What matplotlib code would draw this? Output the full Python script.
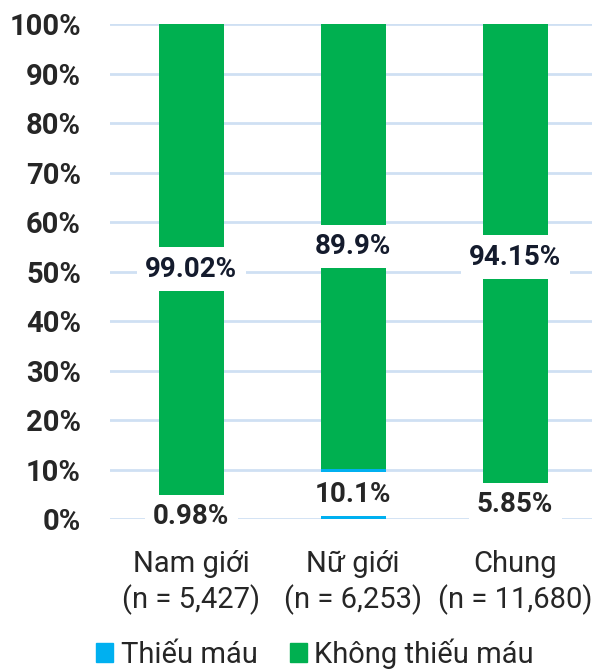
import matplotlib.pyplot as plt
from matplotlib.patches import Patch
import numpy as np

plt.rcParams['font.family'] = ['Roboto', 'DejaVu Sans']

groups = ["Nam giới\n(n = 5,427)", "Nữ giới\n(n = 6,253)", "Chung\n(n = 11,680)"]
thieu_mau = [0.98, 10.1, 5.85]
khong_thieu_mau = [99.02, 89.9, 94.15]
series_names = ["Thiếu máu", "Không thiếu máu"]

blue = "#00B0F0"
green = "#00B050"
grid_c = "#CFE0F3"

fig = plt.figure(figsize=(5.92, 6.71), dpi=100)
ax = fig.add_axes([0.186, 0.2265, 0.821, 0.7377])

x = np.arange(len(groups))
bottom = np.zeros(len(groups))
for vals, col, tcol in [(thieu_mau, blue, "#262626"), (khong_thieu_mau, green, "#141B2D")]:
    vals = np.array(vals)
    ax.bar(x, vals, 0.4, bottom=bottom, color=col, zorder=2)
    for xi, b, v in zip(x, bottom, vals):
        ax.text(xi, b + v / 2, f"{v:g}%", ha="center", va="center",
                fontsize=20, fontweight="bold", color=tcol, zorder=4,
                bbox=dict(boxstyle="square,pad=0.3", fc="white", ec="none"))
    bottom = bottom + vals

ax.set_xlim(-0.5, 2.5)
ax.set_ylim(0, 100)
ax.set_yticks(np.arange(0, 101, 10))
ax.set_yticklabels([f"{t}%" for t in range(0, 101, 10)])
ax.set_xticks(x)
ax.set_xticklabels(groups, fontsize=21, color="#262626", linespacing=1.3)
ax.tick_params(axis="y", length=0, pad=21, labelsize=21, labelcolor="#262626")
for lab in ax.get_yticklabels():
    lab.set_fontweight("bold")
ax.tick_params(axis="x", length=0, pad=22)
ax.yaxis.grid(True, color=grid_c, linewidth=2)
ax.set_axisbelow(True)
for s in ax.spines.values():
    s.set_visible(False)

handles = [Patch(color=blue), Patch(color=green)]
fig.legend(handles, series_names, loc="center left", bbox_to_anchor=(0.162, 0.026),
           ncol=2, frameon=False, fontsize=21, handlelength=0.6, handleheight=0.6,
           handletextpad=0.25, columnspacing=1.1, borderaxespad=0, borderpad=0,
           labelcolor="#262626")

fig.savefig("out.png", dpi=100)
